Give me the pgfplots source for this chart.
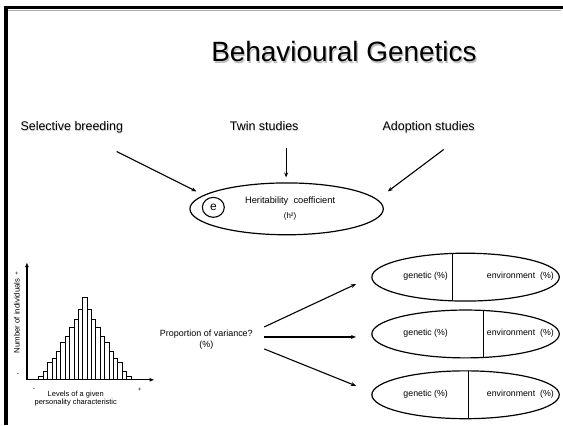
\documentclass[border=0pt]{standalone}
\usepackage{pgfplots}
\pgfplotsset{compat=1.18}
\usepackage{fontspec}
\setmainfont{Liberation Sans}
\usetikzlibrary{arrows.meta}
\begin{document}
\begin{tikzpicture}[x=1pt,y=1pt,>={Stealth[length=5pt,width=4pt]}]
% canvas
\fill[white] (0,0) rectangle (563,425);
% slide border
\draw[gray!60,line width=1pt] (8.5,414.5) -- (563,414.5);
\draw[black,line width=3.5pt,line cap=rect] (6,0) -- (6,417.5) -- (563,417.5);

% title with shadow
\node[gray!50,font=\fontsize{28}{30}\selectfont] at (346.3,371.7) {Behavioural Genetics};
\node[black,font=\fontsize{28}{30}\selectfont] at (345,373) {Behavioural Genetics};

% top labels
\begin{scope}[font=\fontsize{12.5}{14}\selectfont,anchor=base]
\node[gray!40,anchor=base] at (72.6,293) {Selective breeding};
\node[anchor=base] at (72,293.6) {Selective breeding};
\node[gray!40,anchor=base] at (265.6,293) {Twin studies};
\node[anchor=base] at (265,293.6) {Twin studies};
\node[gray!40,anchor=base] at (430.6,293) {Adoption studies};
\node[anchor=base] at (430,293.6) {Adoption studies};
\end{scope}

% arrows to heritability
\draw[->,line width=1.1pt] (117,273) -- (197,233);
\draw[->,line width=1.1pt] (287,277) -- (287,247);
\draw[->,line width=1.1pt] (445,275) -- (389,233);

% heritability ellipse
\draw[line width=1.2pt] (287.5,215.5) ellipse [x radius=97, y radius=26];
\draw[line width=1.1pt] (214,217) ellipse [x radius=11, y radius=10];
\node[font=\fontsize{12}{14}\selectfont] at (214,217.5) {e};
\node[font=\fontsize{9.3}{10}\selectfont] at (291,223) {Heritability\ \ coefficient};
\node[font=\fontsize{8}{10}\selectfont] at (291,208) {(h²)};

% proportion of variance
\node[font=\fontsize{9}{10}\selectfont,align=center,inner sep=0pt] at (207,84)
  {Proportion of variance?\\[1pt](\%)};
\draw[->,line width=1.1pt] (265,97) -- (357,140);
\draw[->,line width=1.1pt] (265,87) -- (357,87);
\draw[->,line width=1.1pt] (265,75) -- (357,38);

% right ellipses
\foreach \cy/\dx in {147/454, 90/485, 29/470}{
  \begin{scope}
    \clip (467,\cy) ellipse [x radius=94, y radius=24];
    \draw[line width=0.8pt] (\dx,\cy-30) -- (\dx,\cy+30);
  \end{scope}
  \draw[line width=1.2pt] (467,\cy) ellipse [x radius=94, y radius=24];
  \node[font=\fontsize{8.8}{10}\selectfont] at (427,\cy+0.5) {genetic (\%)};
  \node[font=\fontsize{8.8}{10}\selectfont] at (522,\cy+0.5) {environment\ \ (\%)};
}

% histogram
\begin{axis}[
  at={(27,44)}, anchor=south west,
  scale only axis, width=128pt, height=118pt,
  xmin=27, xmax=155, ymin=0, ymax=118,
  axis lines=left,
  axis line style={line width=1.3pt,-{Latex[length=5pt,width=4pt]}},
  xtick=\empty, ytick=\empty,
  clip=false,
]
\addplot[ybar, bar width=4.4, bar shift=0pt, fill=white, draw=black, line width=0.9pt]
coordinates {
(41.2,3) (45.6,8) (50.0,17) (54.4,21) (58.8,28) (63.2,37) (67.6,44)
(72.0,53) (76.4,61) (80.8,71) (85.2,83) (89.6,71) (94.0,61) (98.4,53)
(102.8,44) (107.2,37) (111.6,28) (116.0,21) (120.4,17) (124.8,8) (129.2,3)
};
\end{axis}
\node[rotate=90,font=\fontsize{7.8}{8}\selectfont] at (17,108) {Number of individuals};
\node[font=\fontsize{6}{7}\selectfont] at (17,150) {+};
\node[font=\fontsize{6}{7}\selectfont] at (18,49) {-};
\node[font=\fontsize{6}{7}\selectfont] at (34,34) {-};
\node[font=\fontsize{6}{7}\selectfont] at (140,34) {+};
\node[font=\fontsize{7.5}{8}\selectfont] at (76,29) {Levels of a given};
\node[font=\fontsize{7.5}{8}\selectfont] at (76,21) {personality characteristic};
\end{tikzpicture}
\end{document}
